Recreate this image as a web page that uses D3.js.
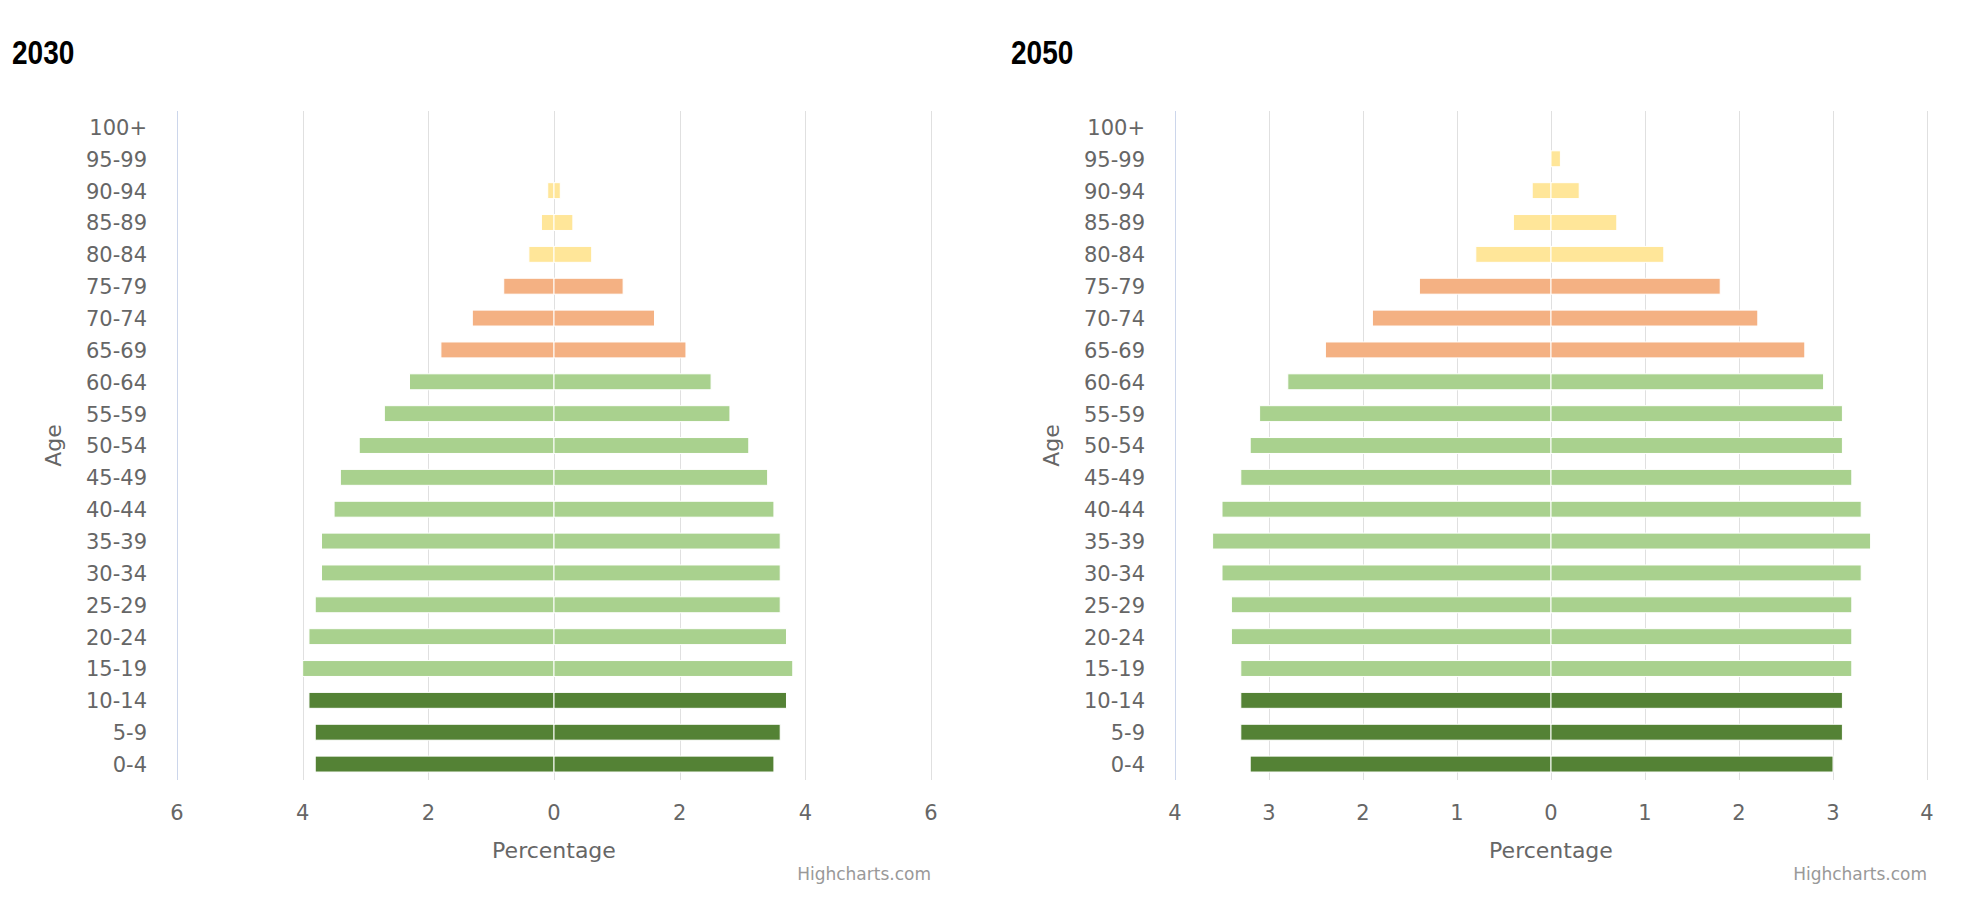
<!DOCTYPE html>
<html>
<head>
<meta charset="utf-8">
<script src="https://cdn.jsdelivr.net/npm/d3@7"></script>
<style>
  body { margin: 0; background: #fff; }
  svg { display: block; }
  .title { font-family: "Liberation Sans", "Roboto", sans-serif; font-weight: bold; font-size: 33px; fill: #000; }
  .lbl { font-family: "DejaVu Sans", sans-serif; font-size: 21px; fill: #666; }
  .credits { font-family: "DejaVu Sans", sans-serif; font-size: 17px; fill: #999; }
</style>
</head>
<body>
<script>
// age groups, bottom to top
const ages = ['0-4', '5-9', '10-14', '15-19', '20-24', '25-29', '30-34', '35-39', '40-44', '45-49',
  '50-54', '55-59', '60-64', '65-69', '70-74', '75-79', '80-84', '85-89', '90-94', '95-99', '100+'];

// percentages (left side of the pyramid and right side)
const left2030  = [3.8, 3.8, 3.9, 4.0, 3.9, 3.8, 3.7, 3.7, 3.5, 3.4, 3.1, 2.7, 2.3, 1.8, 1.3, 0.8, 0.4, 0.2, 0.1, 0, 0];
const right2030 = [3.5, 3.6, 3.7, 3.8, 3.7, 3.6, 3.6, 3.6, 3.5, 3.4, 3.1, 2.8, 2.5, 2.1, 1.6, 1.1, 0.6, 0.3, 0.1, 0, 0];
const left2050  = [3.2, 3.3, 3.3, 3.3, 3.4, 3.4, 3.5, 3.6, 3.5, 3.3, 3.2, 3.1, 2.8, 2.4, 1.9, 1.4, 0.8, 0.4, 0.2, 0, 0];
const right2050 = [3.0, 3.1, 3.1, 3.2, 3.2, 3.2, 3.3, 3.4, 3.3, 3.2, 3.1, 3.1, 2.9, 2.7, 2.2, 1.8, 1.2, 0.7, 0.3, 0.1, 0];

const ticks2030 = [-6, -4, -2, 0, 2, 4, 6];
const ticks2050 = [-4, -3, -2, -1, 0, 1, 2, 3, 4];

const W = 1966, H = 906;
const plotTop = 111, plotBottom = 780;

function ageColor(i) {
  if (i < 3) return '#548235';
  if (i < 13) return '#a9d18e';
  if (i < 16) return '#f4b183';
  return '#ffe699';
}

const svg = d3.select('body').append('svg')
  .attr('width', W)
  .attr('height', H);

const panels = [
  { title: '2030', titleX: 12, left: 177, right: 931, max: 6, ticks: ticks2030, neg: left2030, pos: right2030 },
  { title: '2050', titleX: 1011, left: 1175, right: 1927, max: 4, ticks: ticks2050, neg: left2050, pos: right2050 }
];

panels.forEach(p => {
  const g = svg.append('g');

  const x = d3.scaleLinear().domain([-p.max, p.max]).range([p.left, p.right]);
  const y = d3.scaleBand().domain(ages).range([plotBottom, plotTop]);
  const barH = y.bandwidth() * 0.5;

  // condensed bold title
  g.append('text')
    .attr('class', 'title')
    .attr('transform', `translate(${p.titleX},64) scale(0.85,1)`)
    .text(p.title);

  // grid lines
  g.selectAll('line.grid').data(p.ticks).enter()
    .append('line')
    .attr('class', 'grid')
    .attr('x1', d => Math.round(x(d)) + 0.5)
    .attr('x2', d => Math.round(x(d)) + 0.5)
    .attr('y1', plotTop)
    .attr('y2', plotBottom)
    .attr('stroke', '#e0e0e0')
    .attr('stroke-width', 1);

  // category axis line
  g.append('line')
    .attr('x1', p.left + 0.5)
    .attr('x2', p.left + 0.5)
    .attr('y1', plotTop)
    .attr('y2', plotBottom)
    .attr('stroke', '#ccd6eb')
    .attr('stroke-width', 1);

  const rows = ages.map((a, i) => ({ age: a, i: i, neg: p.neg[i], pos: p.pos[i] }));

  // left half
  g.selectAll('rect.neg').data(rows.filter(d => d.neg > 0)).enter()
    .append('rect')
    .attr('class', 'neg')
    .attr('x', d => x(-d.neg))
    .attr('width', d => x(0) - x(-d.neg))
    .attr('y', d => y(d.age) + (y.bandwidth() - barH) / 2)
    .attr('height', barH)
    .attr('fill', d => ageColor(d.i))
    .attr('stroke', '#fff')
    .attr('stroke-width', 1);

  // right half
  g.selectAll('rect.pos').data(rows.filter(d => d.pos > 0)).enter()
    .append('rect')
    .attr('class', 'pos')
    .attr('x', x(0))
    .attr('width', d => x(d.pos) - x(0))
    .attr('y', d => y(d.age) + (y.bandwidth() - barH) / 2)
    .attr('height', barH)
    .attr('fill', d => ageColor(d.i))
    .attr('stroke', '#fff')
    .attr('stroke-width', 1);

  // category labels
  g.selectAll('text.cat').data(ages).enter()
    .append('text')
    .attr('class', 'lbl')
    .attr('text-anchor', 'end')
    .attr('x', p.left - 30)
    .attr('y', d => y(d) + y.bandwidth() / 2)
    .attr('dy', '0.38em')
    .text(d => d);

  // value axis labels
  g.selectAll('text.tick').data(p.ticks).enter()
    .append('text')
    .attr('class', 'lbl')
    .attr('text-anchor', 'middle')
    .attr('x', d => x(d))
    .attr('y', 820)
    .text(d => Math.abs(d));

  g.append('text')
    .attr('class', 'lbl')
    .attr('text-anchor', 'middle')
    .attr('x', (p.left + p.right) / 2)
    .attr('y', 858)
    .style('font-size', '22px')
    .text('Percentage');

  g.append('text')
    .attr('class', 'lbl')
    .attr('text-anchor', 'middle')
    .attr('transform', `translate(${p.left - 116},${(plotTop + plotBottom) / 2}) rotate(-90)`)
    .style('font-size', '22px')
    .text('Age');

  g.append('text')
    .attr('class', 'credits')
    .attr('text-anchor', 'end')
    .attr('x', p.right)
    .attr('y', 880)
    .text('Highcharts.com');
});
</script>
</body>
</html>
